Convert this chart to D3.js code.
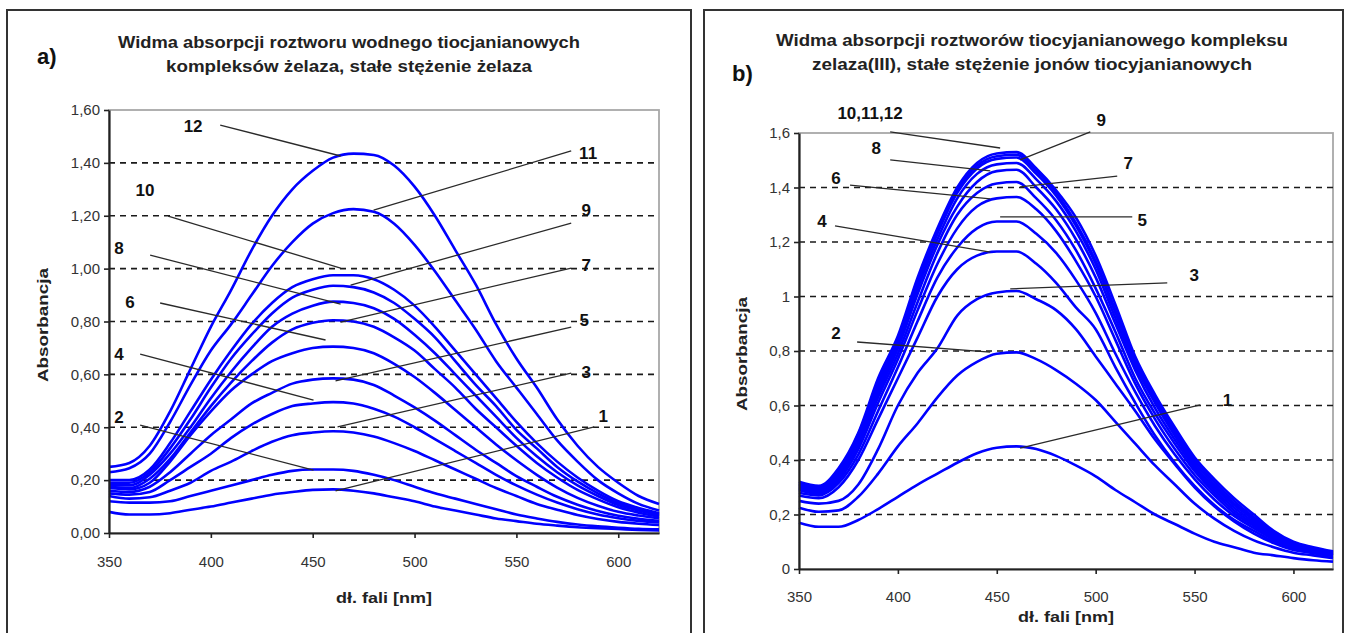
<!DOCTYPE html>
<html>
<head>
<meta charset="utf-8">
<script src="https://cdn.jsdelivr.net/npm/d3@7/dist/d3.min.js"></script>
<style>
  body { margin: 0; background: #fff; }
  text { font-family: "Liberation Sans", Arial, sans-serif; }
</style>
</head>
<body>
<div id="chart"></div>
<script>
// wavelength grid (nm), shared by both panels
var wavelengths = [350,360,370,380,390,400,410,420,430,440,450,460,470,480,490,500,510,520,530,540,550,560,570,580,590,600,610,620];

// panel a) - constant iron concentration
var curveA1  = [.08,.07,.07,.075,.088,.10,.115,.13,.145,.155,.163,.165,.16,.15,.135,.12,.10,.085,.07,.055,.045,.035,.028,.022,.018,.015,.012,.01];
var curveA2  = [.12,.115,.115,.12,.14,.16,.18,.20,.22,.235,.24,.24,.235,.22,.20,.175,.15,.13,.11,.09,.07,.055,.042,.032,.025,.02,.016,.014];
var curveA3  = [.14,.13,.135,.16,.19,.235,.27,.31,.345,.37,.38,.385,.38,.365,.34,.31,.275,.24,.205,.17,.14,.11,.088,.068,.053,.042,.035,.03];
var curveA4  = [.15,.145,.155,.2,.25,.30,.36,.41,.45,.48,.49,.495,.49,.47,.44,.40,.355,.31,.265,.22,.18,.145,.115,.09,.07,.056,.046,.04];
var curveA5  = [.16,.155,.175,.23,.30,.37,.43,.49,.53,.565,.58,.585,.58,.56,.52,.475,.425,.37,.315,.265,.215,.175,.137,.107,.083,.065,.054,.046];
var curveA6  = [.17,.165,.19,.27,.37,.46,.54,.60,.65,.68,.70,.705,.70,.68,.64,.59,.53,.465,.40,.335,.275,.22,.172,.133,.103,.08,.066,.056];
var curveA7  = [.175,.17,.205,.28,.38,.48,.57,.65,.72,.77,.795,.805,.80,.78,.74,.69,.62,.55,.47,.40,.33,.265,.21,.163,.127,.097,.077,.062];
var curveA8  = [.18,.18,.22,.30,.40,.51,.61,.70,.78,.83,.86,.875,.87,.85,.81,.75,.68,.60,.52,.44,.36,.29,.23,.18,.14,.106,.085,.067];
var curveA9  = [.19,.19,.23,.32,.43,.55,.66,.75,.83,.89,.92,.935,.93,.91,.87,.81,.74,.65,.56,.48,.39,.32,.25,.195,.15,.113,.09,.071];
var curveA10 = [.20,.20,.24,.34,.46,.58,.69,.79,.87,.93,.96,.975,.975,.96,.92,.86,.78,.69,.60,.51,.42,.34,.27,.21,.16,.12,.095,.075];
var curveA11 = [.23,.245,.30,.42,.56,.69,.79,.90,1.01,1.10,1.17,1.21,1.225,1.215,1.17,1.09,.99,.88,.77,.65,.55,.45,.35,.27,.20,.15,.11,.085];
var curveA12 = [.25,.265,.33,.46,.62,.78,.92,1.07,1.20,1.30,1.37,1.42,1.435,1.43,1.39,1.31,1.20,1.07,.94,.79,.66,.55,.43,.33,.25,.19,.14,.11];

// panel b) - constant thiocyanate concentration
var curveB1  = [.17,.155,.155,.18,.22,.265,.31,.35,.39,.425,.445,.45,.44,.415,.38,.34,.29,.245,.20,.165,.13,.10,.08,.06,.05,.04,.032,.027];
var curveB2  = [.225,.21,.215,.265,.35,.45,.535,.63,.71,.76,.79,.795,.77,.73,.68,.62,.54,.46,.38,.31,.24,.185,.14,.105,.08,.06,.05,.04];
var curveB3  = [.25,.24,.25,.31,.44,.60,.72,.81,.93,.99,1.015,1.02,.99,.95,.88,.78,.68,.58,.475,.385,.30,.23,.175,.13,.095,.07,.06,.05];
var curveB4  = [.27,.26,.30,.40,.55,.70,.85,1.00,1.10,1.15,1.165,1.165,1.12,1.05,.96,.88,.74,.61,.49,.39,.305,.235,.18,.14,.10,.074,.058,.048];
var curveB5  = [.28,.27,.315,.42,.58,.74,.91,1.07,1.18,1.25,1.275,1.275,1.23,1.16,1.06,.94,.79,.65,.525,.42,.33,.255,.195,.15,.107,.078,.061,.05];
var curveB6  = [.29,.275,.325,.44,.61,.77,.95,1.12,1.25,1.33,1.36,1.365,1.32,1.24,1.13,1.00,.84,.68,.55,.44,.345,.27,.205,.158,.112,.082,.064,.052];
var curveB7  = [.295,.28,.335,.455,.63,.79,.98,1.16,1.30,1.38,1.415,1.42,1.36,1.28,1.17,1.03,.87,.70,.57,.46,.36,.28,.215,.165,.117,.084,.067,.054];
var curveB8  = [.30,.285,.345,.47,.645,.81,1.01,1.19,1.33,1.42,1.46,1.465,1.40,1.32,1.21,1.07,.90,.73,.59,.475,.37,.29,.225,.172,.122,.087,.07,.056];
var curveB9  = [.305,.29,.35,.48,.66,.825,1.03,1.21,1.36,1.45,1.485,1.49,1.43,1.35,1.24,1.10,.92,.745,.61,.49,.38,.30,.235,.18,.127,.09,.072,.058];
var curveB10 = [.31,.295,.355,.49,.675,.835,1.045,1.23,1.38,1.47,1.505,1.51,1.45,1.37,1.26,1.12,.94,.76,.62,.50,.39,.31,.24,.185,.13,.094,.075,.06];
var curveB11 = [.315,.30,.36,.495,.685,.845,1.06,1.24,1.39,1.48,1.515,1.52,1.46,1.38,1.27,1.13,.95,.77,.63,.51,.40,.32,.25,.19,.135,.097,.077,.062];
var curveB12 = [.32,.305,.37,.50,.70,.855,1.07,1.25,1.40,1.49,1.525,1.53,1.47,1.39,1.29,1.15,.97,.78,.64,.52,.41,.33,.26,.20,.14,.10,.08,.065];

var xTicks = [350,400,450,500,550,600];
var yTicks = [0,0.2,0.4,0.6,0.8,1.0,1.2,1.4,1.6];

// curve labels: text spot, leader start, leader end (all in nm / absorbance)
var labelsA = [
  {t:"12", tx:391.3, ty:1.539, sx:404.6, sy:1.543, ex:463.7, ey:1.426},
  {t:"10", tx:367.7, ty:1.297, sx:379.0, sy:1.199, ex:463.7, ey:1.002},
  {t:"8",  tx:354.9, ty:1.078, sx:370.2, sy:1.051, ex:463.7, ey:0.866},
  {t:"6",  tx:360.3, ty:0.874, sx:375.1, sy:0.870, ex:456.3, ey:0.730},
  {t:"4",  tx:354.9, ty:0.677, sx:365.3, sy:0.677, ex:450.4, ey:0.503},
  {t:"2",  tx:354.9, ty:0.439, sx:365.3, sy:0.408, ex:450.4, ey:0.238},
  {t:"11", tx:585.2, ty:1.437, sx:576.9, sy:1.445, ex:479.9, ey:1.221},
  {t:"9",  tx:584.3, ty:1.222, sx:576.9, sy:1.172, ex:468.6, ey:0.938},
  {t:"7",  tx:584.3, ty:1.014, sx:576.9, sy:1.002, ex:463.7, ey:0.798},
  {t:"5",  tx:583.3, ty:0.806, sx:576.9, sy:0.779, ex:461.2, ey:0.575},
  {t:"3",  tx:584.3, ty:0.609, sx:576.9, sy:0.605, ex:462.2, ey:0.401},
  {t:"1",  tx:592.6, ty:0.443, sx:588.2, sy:0.401, ex:461.2, ey:0.159}
];
var labelsB = [
  {t:"10,11,12", tx:385.9, ty:1.673, sx:396.1, sy:1.604, ex:451.7, ey:1.545},
  {t:"8",  tx:389.0, ty:1.545, sx:396.1, sy:1.501, ex:446.7, ey:1.461},
  {t:"6",  tx:368.7, ty:1.435, sx:375.8, sy:1.409, ex:446.7, ey:1.358},
  {t:"4",  tx:361.6, ty:1.277, sx:368.2, sy:1.259, ex:446.7, ey:1.163},
  {t:"2",  tx:368.7, ty:0.866, sx:379.4, sy:0.833, ex:446.7, ey:0.796},
  {t:"9",  tx:502.8, ty:1.648, sx:497.3, sy:1.604, ex:461.8, ey:1.501},
  {t:"7",  tx:516.5, ty:1.490, sx:510.9, sy:1.442, ex:461.8, ey:1.402},
  {t:"5",  tx:523.6, ty:1.281, sx:518.5, sy:1.292, ex:451.7, ey:1.292},
  {t:"3",  tx:549.9, ty:1.079, sx:536.2, sy:1.050, ex:456.8, ey:1.028},
  {t:"1",  tx:566.6, ty:0.620, sx:552.9, sy:0.602, ex:461.8, ey:0.444}
];

var svg = d3.select("#chart")
  .append("svg")
  .attr("width", 1346)
  .attr("height", 633)
  .style("background", "#fff");

function drawPanel(cfg) {
  var g = svg.append("g");

  var x = d3.scaleLinear().domain([350, 620]).range([cfg.left, cfg.right]);
  var y = d3.scaleLinear().domain([0, 1.6]).range([cfg.bottom, cfg.top]);

  // outer chart frame
  g.append("rect")
    .attr("x", cfg.frame[0]).attr("y", cfg.frame[1])
    .attr("width", cfg.frame[2] - cfg.frame[0])
    .attr("height", cfg.frame[3] - cfg.frame[1])
    .attr("fill", "none")
    .attr("stroke", "#333")
    .attr("stroke-width", 2);

  // plot area border (grey)
  g.append("rect")
    .attr("x", cfg.left).attr("y", cfg.top)
    .attr("width", cfg.right - cfg.left)
    .attr("height", cfg.bottom - cfg.top)
    .attr("fill", "none")
    .attr("stroke", "#a8a8a8")
    .attr("stroke-width", 1.8);

  // dashed gridlines
  g.selectAll(".grid")
    .data(yTicks.filter(function(d){ return d > 0 && d < 1.6; }))
    .enter().append("line")
    .attr("x1", cfg.left).attr("x2", cfg.right)
    .attr("y1", function(d){ return y(d); })
    .attr("y2", function(d){ return y(d); })
    .attr("stroke", "#1a1a1a")
    .attr("stroke-width", 1.7)
    .attr("stroke-dasharray", "6,5");

  // spectra
  var line = d3.line()
    .x(function(d, i){ return x(wavelengths[i]); })
    .y(function(d){ return y(d); })
    .curve(d3.curveMonotoneX);

  g.selectAll(".curve")
    .data(cfg.curves)
    .enter().append("path")
    .attr("d", line)
    .attr("fill", "none")
    .attr("stroke", "#0000ff")
    .attr("stroke-width", 2.6);

  // leader lines and numbers
  g.selectAll(".leader")
    .data(cfg.labels)
    .enter().append("line")
    .attr("x1", function(d){ return x(d.sx); })
    .attr("y1", function(d){ return y(d.sy); })
    .attr("x2", function(d){ return x(d.ex); })
    .attr("y2", function(d){ return y(d.ey); })
    .attr("stroke", "#2a2a2a")
    .attr("stroke-width", 1.3);

  g.selectAll(".num")
    .data(cfg.labels)
    .enter().append("text")
    .attr("x", function(d){ return x(d.tx); })
    .attr("y", function(d){ return y(d.ty); })
    .attr("dy", "0.36em")
    .attr("text-anchor", "middle")
    .attr("font-size", "17px")
    .attr("font-weight", "bold")
    .attr("fill", "#111")
    .text(function(d){ return d.t; });

  // axes
  var yAxis = g.append("g")
    .attr("transform", "translate(" + cfg.left + ",0)")
    .call(d3.axisLeft(y).tickValues(yTicks).tickSize(5).tickSizeOuter(0).tickPadding(4)
      .tickFormat(cfg.yFormat));
  var xAxis = g.append("g")
    .attr("transform", "translate(0," + cfg.bottom + ")")
    .call(d3.axisBottom(x).tickValues(xTicks).tickSize(5).tickSizeOuter(0).tickPadding(cfg.xPad));

  [yAxis, xAxis].forEach(function(a){
    a.select(".domain").attr("stroke", "#222").attr("stroke-width", 2.2);
    a.selectAll(".tick line").attr("stroke", "#222").attr("stroke-width", 1.6);
    a.selectAll(".tick text")
      .attr("font-size", "15px")
      .attr("font-family", "'Liberation Sans', Arial, sans-serif")
      .attr("fill", "#333");
  });

  // axis titles
  g.append("text")
    .attr("transform", "translate(" + cfg.yTitleX + "," + cfg.yTitleMid + ") rotate(-90)")
    .attr("text-anchor", "middle")
    .attr("font-size", "15px")
    .attr("font-weight", "bold")
    .attr("fill", "#222")
    .attr("textLength", 114)
    .attr("lengthAdjust", "spacingAndGlyphs")
    .text("Absorbancja");

  g.append("text")
    .attr("x", (cfg.left + cfg.right) / 2)
    .attr("y", cfg.xTitleY)
    .attr("text-anchor", "middle")
    .attr("font-size", "15px")
    .attr("font-weight", "bold")
    .attr("fill", "#222")
    .attr("textLength", 96)
    .attr("lengthAdjust", "spacingAndGlyphs")
    .text("dł. fali [nm]");

  // chart title (two lines)
  cfg.title.forEach(function(t, i){
    g.append("text")
      .attr("x", cfg.titleX)
      .attr("y", cfg.titleY[i])
      .attr("text-anchor", "middle")
      .attr("font-size", "16.5px")
      .attr("font-weight", "bold")
      .attr("fill", "#222")
      .attr("textLength", cfg.titleW[i])
      .attr("lengthAdjust", "spacingAndGlyphs")
      .text(t);
  });

  g.append("text")
    .attr("x", cfg.tag[0]).attr("y", cfg.tag[1])
    .attr("font-size", "22px")
    .attr("font-weight", "bold")
    .attr("fill", "#111")
    .text(cfg.tagText);
}

function commaFormat(digits) {
  return function(d){
    var s = digits === null ? String(+d.toFixed(1)) : d.toFixed(digits);
    return s.replace(".", ",");
  };
}

drawPanel({
  frame: [7, 10, 691, 645],
  left: 109, right: 659, top: 110, bottom: 533,
  curves: [curveA1, curveA2, curveA3, curveA4, curveA5, curveA6, curveA7, curveA8, curveA9, curveA10, curveA11, curveA12],
  labels: labelsA,
  yFormat: commaFormat(2),
  xPad: 18,
  yTitleX: 48, yTitleMid: 325,
  xTitleY: 603,
  title: ["Widma absorpcji roztworu wodnego tiocjanianowych", "kompleksów żelaza, stałe stężenie żelaza"],
  titleX: 349, titleY: [48, 72], titleW: [462, 366],
  tag: [37, 64], tagText: "a)"
});

drawPanel({
  frame: [704, 10, 1343, 645],
  left: 799, right: 1333, top: 133, bottom: 569,
  curves: [curveB1, curveB2, curveB3, curveB4, curveB5, curveB6, curveB7, curveB8, curveB9, curveB10, curveB11, curveB12],
  labels: labelsB,
  yFormat: commaFormat(null),
  xPad: 17,
  yTitleX: 747, yTitleMid: 354,
  xTitleY: 622,
  title: ["Widma absorpcji roztworów tiocyjanianowego kompleksu", "zelaza(III), stałe stężenie jonów tiocyjanianowych"],
  titleX: 1032, titleY: [46, 70], titleW: [512, 440],
  tag: [732, 81], tagText: "b)"
});
</script>
</body>
</html>
